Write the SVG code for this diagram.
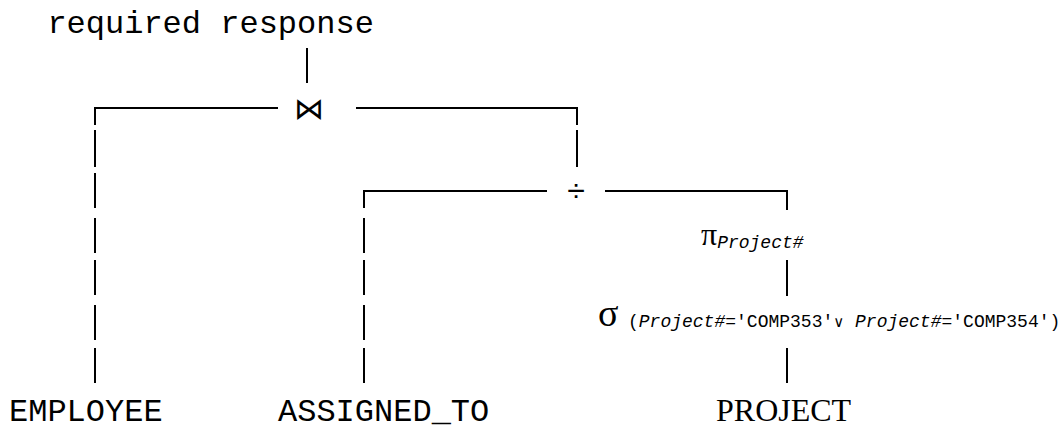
<svg xmlns="http://www.w3.org/2000/svg" width="1062" height="430" viewBox="0 0 1062 430">
<style>
.mono{font-family:"Liberation Mono","DejaVu Sans Mono",monospace;font-size:32px;fill:#000}
.serif{font-family:"Liberation Serif","DejaVu Serif",serif;font-size:32px;fill:#000}
.sub{font-family:"Liberation Mono","DejaVu Sans Mono",monospace;font-size:18px;fill:#000}
.it{font-style:italic}
.ln{stroke:#000;stroke-width:2;fill:none;stroke-linecap:butt}
</style>
<rect width="1062" height="430" fill="#fff"/>
<g id="connectors" class="ln">
<line x1="307" y1="48" x2="307" y2="83"/>
<path d="M95,125 V108 H278"/>
<path d="M356,108 H577 V125"/>
<line x1="577" y1="130" x2="577" y2="167"/>
<line x1="95" y1="130" x2="95" y2="167"/>
<line x1="95" y1="173" x2="95" y2="208"/>
<line x1="95" y1="218" x2="95" y2="253"/>
<line x1="95" y1="260" x2="95" y2="295"/>
<line x1="95" y1="305" x2="95" y2="340"/>
<line x1="95" y1="348" x2="95" y2="383"/>
<path d="M364,208 V191 H547"/>
<path d="M605,191 H787 V210"/>
<line x1="364" y1="218" x2="364" y2="253"/>
<line x1="364" y1="260" x2="364" y2="295"/>
<line x1="364" y1="305" x2="364" y2="340"/>
<line x1="364" y1="348" x2="364" y2="383"/>
<line x1="787" y1="260" x2="787" y2="296"/>
<line x1="787" y1="348" x2="787" y2="383"/>
</g>
<g id="result"><text class="mono" x="47.4" y="33">required response</text></g>
<g id="join"><text x="309" y="119" text-anchor="middle" style="font-family:'DejaVu Sans',sans-serif;font-size:30px;font-weight:300;fill:#000">⋈</text></g>
<g id="division"><text class="mono" x="576" y="201" text-anchor="middle">÷</text></g>
<g id="projection"><text class="serif" x="701" y="245">π<tspan class="sub it" dy="3">Project#</tspan></text></g>
<g id="selection"><text class="serif" x="598" y="326" style="font-size:38px">σ<tspan class="sub" x="628" y="327">(</tspan><tspan class="sub it">Project#</tspan><tspan class="sub">='COMP353'</tspan><tspan class="sub" style="font-family:'DejaVu Sans',sans-serif;font-size:15px">∨</tspan><tspan class="sub"> </tspan><tspan class="sub it">Project#</tspan><tspan class="sub">='COMP354')</tspan></text></g>
<g id="employee"><text class="mono" x="9" y="421">EMPLOYEE</text></g>
<g id="assigned_to"><text class="mono" x="278" y="421">ASSIGNED_TO</text></g>
<g id="project"><text class="serif" x="716" y="421">PROJECT</text></g>
</svg>
